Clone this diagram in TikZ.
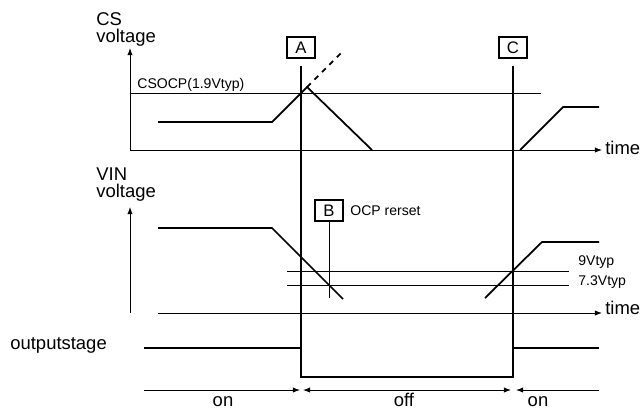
\documentclass[tikz,border=0pt]{standalone}
\usepackage{fontspec}
\setmainfont{Liberation Sans}
\usetikzlibrary{arrows.meta}

\begin{document}
\begin{tikzpicture}[x=0.02cm,y=-0.02cm,
  lbl/.style={font=\fontsize{10.5}{12}\selectfont,inner sep=0pt,anchor=base west},
  lblc/.style={font=\fontsize{10.5}{12}\selectfont,inner sep=0pt,anchor=base},
  small/.style={font=\fontsize{8}{9.6}\selectfont,inner sep=0pt,anchor=base west},
  tag/.style={draw,line width=0.6pt,minimum width=0.56cm,minimum height=0.42cm,inner sep=0pt,font=\fontsize{9.5}{11}\selectfont},
  ref/.style={line width=0.55pt},
  sig/.style={line width=1pt},
  axis/.style={line width=0.55pt,-{Latex[length=4pt,width=3pt]}},
  span/.style={line width=0.55pt,{Latex[length=4pt,width=3pt]}-{Latex[length=4pt,width=3pt]}}]
\useasboundingbox (0,0) rectangle (642,410);

\node[lbl] (cs) at (96,25) {CS};
\node[lbl] (csv) at (96,42) {voltage};
\node[lbl] (vin) at (96,180) {VIN};
\node[lbl] (vinv) at (96,197.5) {voltage};
\node[lbl] (out) at (10,349) {outputstage};
\node[lbl] (t1) at (605,154) {time};
\node[lbl] (t2) at (605,314) {time};
\node[small] (ocp) at (137,88) {CSOCP(1.9Vtyp)};
\node[small] (v9) at (578,265) {9Vtyp};
\node[small] (v73) at (578,285.5) {7.3Vtyp};
\node[small] (rst) at (350,215) {OCP rerset};
\node[lblc] (on1) at (223,406) {on};
\node[lblc] (off) at (404,406) {off};
\node[lblc] (on2) at (538,406) {on};

\node[tag] (A) at (301,47.5) {A};
\node[tag] (C) at (513,47.5) {C};
\node[tag] (B) at (329,210.5) {B};

\coordinate (cs0) at (130,150);
\coordinate (vin0) at (130,313);

\draw[axis] (cs0) -- (130,48);
\draw[axis] (cs0) -- (602,150);
\draw[axis] (vin0) -- (130,207);
\draw[axis] (158,313) -- (602,313);

\draw[ref] (130,93) -- (541,93);
\draw[ref] (287,271) -- (569,271);
\draw[ref] (287,285) -- (569,285);

\draw[ref,line width=0.8pt,shorten <=0.14cm] (A.south) -- (301,377);
\draw[ref,line width=0.8pt,shorten <=0.14cm] (C.south) -- (513,377);
\draw[ref] (B.south) -- (329,298);

\draw[sig] (158,122) -- (272,122) -- (307,87) -- (372,150);
\draw[sig,dashed] (307,87) -- (343,51);
\draw[sig] (520,150) -- (563,107) -- (599,107);

\draw[sig] (158,228) -- (272,228) -- (343,299);
\draw[sig] (485,298) -- (542,242) -- (599,242);

\draw[sig] (144,348) -- (301,348) -- (301,377) -- (513,377) -- (513,348) -- (599,348);

\draw[axis] (144,390) -- (300,390);
\draw[span] (303,390) -- (511,390);
\draw[axis] (599,390) -- (516,390);
\end{tikzpicture}
\end{document}
